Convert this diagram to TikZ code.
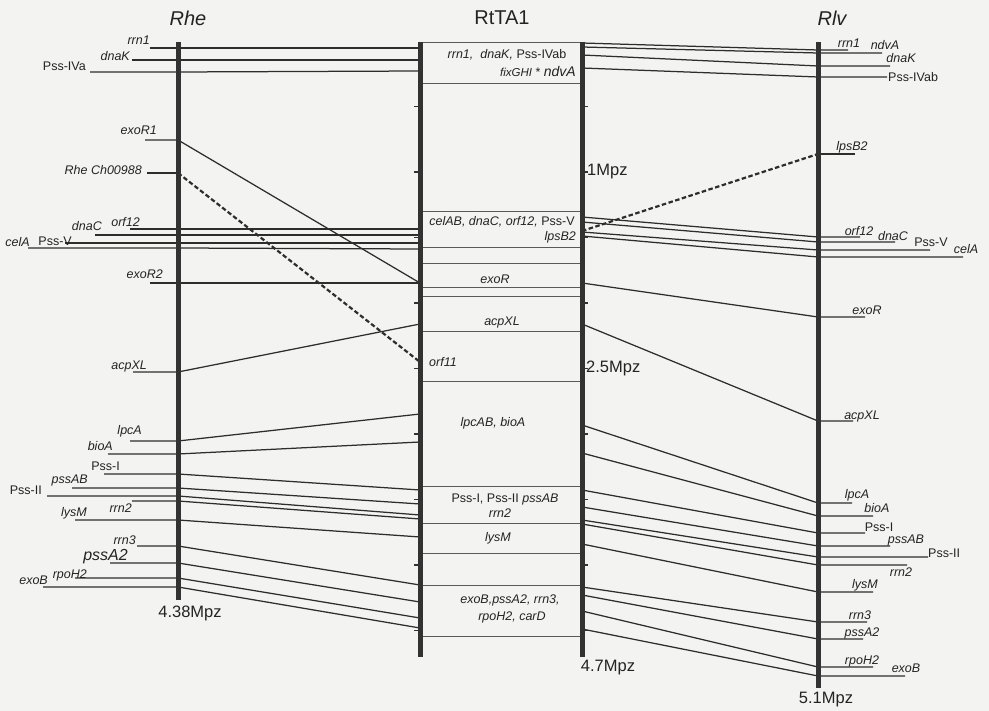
\documentclass[tikz,border=0pt]{standalone}
\usepackage{fontspec}
\setmainfont{Liberation Sans}
\definecolor{bgc}{RGB}{243,243,241}
\definecolor{barc}{RGB}{50,50,50}
\definecolor{linec}{RGB}{45,45,45}
\definecolor{txtc}{RGB}{35,35,35}
\definecolor{boxl}{RGB}{90,90,90}
\newcommand\labsize{\fontsize{12.5}{14}\selectfont}
\newcommand\leftlink[4]{%
  \coordinate (#1s) at (#2,#3);
  \coordinate (#1h) at (178,#3);
  \coordinate (#1m) at (420,#4);
  \draw[link] (#1s) -- (#1h) -- (#1m);}
\newcommand\rightlink[4]{%
  \coordinate (#1m) at (582,#2);
  \coordinate (#1r) at (818,#3);
  \coordinate (#1e) at (#4,#3);
  \draw[link] (#1m) -- (#1r) -- (#1e);}
\tikzset{
  bar/.style={line width=5pt, draw=barc},
  link/.style={line width=1.25pt, draw=linec},
  dlink/.style={line width=2.2pt, draw=linec, dash pattern=on 4.5pt off 2.5pt},
  boxline/.style={line width=0.9pt, draw=boxl},
  lab/.style={font=\labsize\itshape, text=txtc, inner sep=0pt},
  ulab/.style={font=\labsize, text=txtc, inner sep=0pt},
  ttl/.style={font=\fontsize{20}{22}\selectfont, text=txtc, inner sep=0pt},
  mpz/.style={font=\fontsize{16.5}{18}\selectfont, text=txtc, inner sep=0pt},
  tickmark/.style={line width=1.3pt, draw=barc}
}
\begin{document}
\begin{tikzpicture}[x=1pt,y=-1pt]
\path[use as bounding box, fill=bgc] (0,0) rectangle (989,711);

% ---- middle box horizontal lines
\foreach \yy in {42,83,211,247,263,287,296,331,381,486,523,553,585,636}
  \draw[boxline] (420,\yy) -- (582,\yy);

% ---- left links (Rhe -> RtTA1)
\leftlink{a}{150}{48}{48}
\leftlink{b}{132}{60}{60}
\leftlink{c}{90}{72}{71}
\leftlink{d}{145}{140}{283}
\coordinate (es) at (147,173);
\coordinate (eh) at (178,173);
\coordinate (em) at (420,362);
\draw[link] (es) -- (eh);
\draw[dlink] (eh) -- (em);
\leftlink{f}{130}{229}{229}
\leftlink{g}{95}{235}{235}
\leftlink{h}{65}{243}{243}
\leftlink{i}{28}{248}{249}
\leftlink{j}{150}{283}{283}
\leftlink{k}{133}{372}{324}
\leftlink{l}{130}{441}{414}
\leftlink{m}{108}{454}{442}
\leftlink{n}{104}{474}{490}
\leftlink{o}{72}{488}{504}
\leftlink{p}{47}{496}{515}
\leftlink{q}{132}{501}{519}
\leftlink{r}{75}{520}{537}
\leftlink{s}{137}{546}{585}
\leftlink{t}{110}{563}{602}
\leftlink{u}{75}{578}{618}
\leftlink{v}{43}{587}{628}

% ---- right links (RtTA1 -> Rlv)
\rightlink{A}{43}{50}{848}
\rightlink{B}{47}{53}{882}
\rightlink{C}{55}{66}{890}
\rightlink{D}{68}{77}{887}
\coordinate (Em) at (582,231);
\coordinate (Er) at (818,154);
\coordinate (Ee) at (855,154);
\draw[dlink] (Em) -- (Er);
\draw[link] (Er) -- (Ee);
\rightlink{F}{217}{237}{860}
\rightlink{G}{222}{242}{895}
\rightlink{H}{232}{250}{930}
\rightlink{I}{236}{257}{963}
\rightlink{J}{283}{317}{865}
\rightlink{K}{324}{421}{853}
\rightlink{L}{425}{503}{852}
\rightlink{M}{453}{516}{873}
\rightlink{N}{490}{533}{865}
\rightlink{O}{507}{546}{890}
\rightlink{P}{520}{557}{928}
\rightlink{Q}{524}{565}{907}
\rightlink{R}{544}{592}{873}
\rightlink{S}{587}{622}{867}
\rightlink{T}{595}{639}{863}
\rightlink{U}{611}{667}{873}
\rightlink{V}{629}{676}{905}

% ---- chromosome bars
\coordinate (rheTop) at (178,42);
\coordinate (rheBot) at (178,600);
\coordinate (mlTop) at (420,42);
\coordinate (mlBot) at (420,657);
\coordinate (mrTop) at (582,42);
\coordinate (mrBot) at (582,657);
\coordinate (rlvTop) at (818,42);
\coordinate (rlvBot) at (818,688);
\draw[bar] (rheTop) -- (rheBot);
\draw[bar] (mlTop) -- (mlBot);
\draw[bar] (mrTop) -- (mrBot);
\draw[bar] (rlvTop) -- (rlvBot);
\foreach \yy in {106.5,172,237.5,303,368.5,434,499.5,565,630.5}{
  \draw[tickmark] (414,\yy) -- (420,\yy);
  \draw[tickmark] (582,\yy) -- (588,\yy);
}

% ---- titles
\node[ttl, font=\fontsize{20}{22}\selectfont\itshape] (tRhe) at (188,18) {Rhe};
\node[ttl] (tRtTA) at (502,18) {RtTA1};
\node[ttl, font=\fontsize{20}{22}\selectfont\itshape] (tRlv) at (832,18) {Rlv};

% ---- size labels
\node[mpz, anchor=west] (m1) at (587,172) {1Mpz};
\node[mpz, anchor=west] (m25) at (586,368) {2.5Mpz};
\node[mpz] (m47) at (608,668) {4.7Mpz};
\node[mpz] (m438) at (190,613) {4.38Mpz};
\node[mpz] (m51) at (826,700) {5.1Mpz};

% ---- middle box texts
\node[lab] (x1) at (507,55) {rrn1,\ \ dnaK, \upshape Pss-IVab};
\node[lab, anchor=east] (x2) at (576,72) {{\fontsize{11.5}{13}\selectfont fixGHI} \upshape* \itshape{\fontsize{14}{15}\selectfont ndvA}};
\node[lab] (x3) at (502,222) {celAB, dnaC, orf12, \upshape Pss-V};
\node[lab, anchor=east] (x4) at (576,237) {lpsB2};
\node[lab] (x5) at (495,279) {exoR};
\node[lab] (x6) at (502,322) {acpXL};
\node[lab, anchor=west] (x7) at (429,362) {orf11};
\node[lab] (x8) at (493,423) {lpcAB, bioA};
\node[ulab] (x9) at (505,499) {Pss-I, Pss-II \itshape pssAB};
\node[lab] (x10) at (500,513) {rrn2};
\node[lab] (x11) at (498,538) {lysM};
\node[lab] (x12) at (510,600) {exoB,pssA2, rrn3,};
\node[lab] (x13) at (512,617) {rpoH2, carD};

% ---- left labels
\node[lab, anchor=east] (La) at (150,40) {rrn1};
\node[lab, anchor=east] (Lb) at (130,56) {dnaK};
\node[ulab, anchor=east] (Lc) at (86,66) {Pss-IVa};
\node[lab, anchor=east] (Ld) at (157,130) {exoR1};
\node[lab, anchor=east] (Le) at (142,170) {Rhe Ch00988};
\node[lab, anchor=east] (Lf) at (140,222) {orf12};
\node[lab, anchor=east] (Lg) at (102,226) {dnaC};
\node[ulab, anchor=east] (Lh) at (72,241) {Pss-V};
\node[lab, anchor=east] (Li) at (30,242) {celA};
\node[lab, anchor=east] (Lj) at (163,274) {exoR2};
\node[lab, anchor=east] (Lk) at (147,366) {acpXL};
\node[lab, anchor=east] (Ll) at (142,431) {lpcA};
\node[lab, anchor=east] (Lm) at (113,446) {bioA};
\node[ulab, anchor=east] (Ln) at (120,466) {Pss-I};
\node[lab, anchor=east] (Lo) at (88,480) {pssAB};
\node[ulab, anchor=east] (Lp) at (42,490) {Pss-II};
\node[lab, anchor=east] (Lq) at (132,508) {rrn2};
\node[lab, anchor=east] (Lr) at (87,513) {lysM};
\node[lab, anchor=east] (Ls) at (136,540) {rrn3};
\node[lab, anchor=east, font=\fontsize{16}{17}\selectfont\itshape] (Lt) at (128,557) {pssA2};
\node[lab, anchor=east] (Lu) at (87,575) {rpoH2};
\node[lab, anchor=east] (Lv) at (48,580) {exoB};

% ---- right labels
\node[lab] (RA) at (849,43) {rrn1};
\node[lab] (RB) at (885,45) {ndvA};
\node[lab] (RC) at (901,58) {dnaK};
\node[ulab, anchor=west] (RD) at (888,77) {Pss-IVab};
\node[lab] (RE) at (852,147) {lpsB2};
\node[lab] (RF) at (859,231) {orf12};
\node[lab] (RG) at (893,236) {dnaC};
\node[ulab] (RH) at (931,242) {Pss-V};
\node[lab] (RI) at (966,249) {celA};
\node[lab] (RJ) at (867,310) {exoR};
\node[lab] (RK) at (862,416) {acpXL};
\node[lab] (RL) at (857,495) {lpcA};
\node[lab] (RM) at (877,508) {bioA};
\node[ulab] (RN) at (879,527) {Pss-I};
\node[lab] (RO) at (906,540) {pssAB};
\node[ulab, anchor=west] (RP) at (928,553) {Pss-II};
\node[lab] (RQ) at (901,572) {rrn2};
\node[lab] (RR) at (865,585) {lysM};
\node[lab] (RS) at (860,615) {rrn3};
\node[lab] (RT) at (862,633) {pssA2};
\node[lab] (RU) at (862,661) {rpoH2};
\node[lab] (RV) at (906,668) {exoB};
\end{tikzpicture}
\end{document}
